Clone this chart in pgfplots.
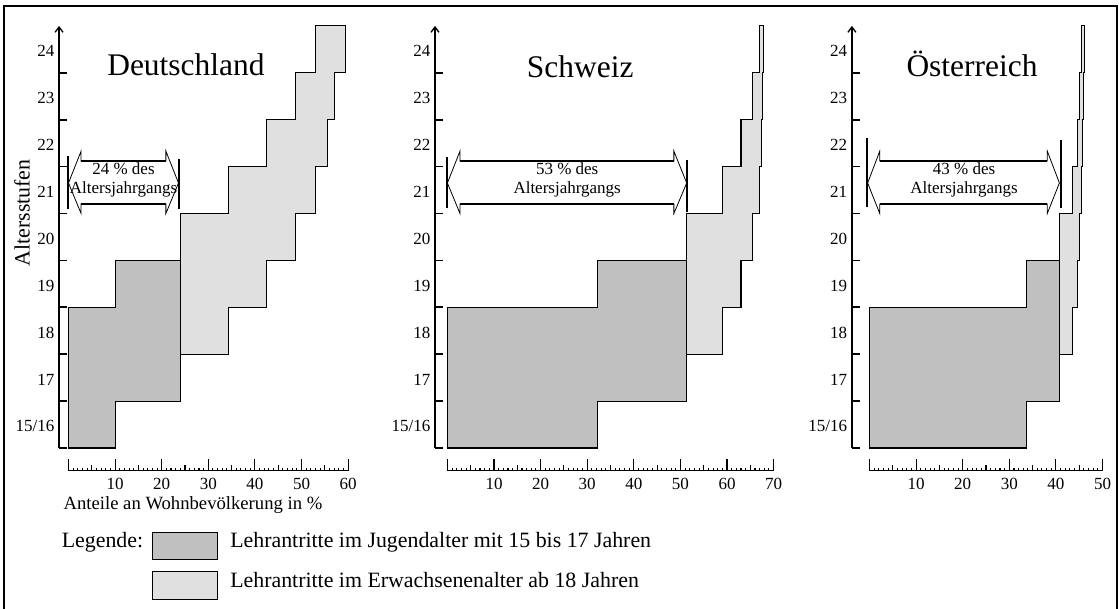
\documentclass[border=0pt]{standalone}
\usepackage{fontspec}
\setmainfont{Liberation Serif}
\usepackage{pgfplots}
\pgfplotsset{compat=1.18}
\usetikzlibrary{arrows.meta}
\definecolor{darkg}{RGB}{192,192,192}
\definecolor{lightg}{RGB}{224,224,224}
\newcommand\ticksz{\fontsize{12.75pt}{15pt}\selectfont}
\newcommand\titlesz{\fontsize{23.6pt}{28pt}\selectfont}
\newcommand\legsz{\fontsize{16.4pt}{19pt}\selectfont}
\newcommand\xlabsz{\fontsize{14pt}{17pt}\selectfont}
\pgfplotsset{
  panel/.style={
    x=3.495pt, y=35.175pt,
    xmin=0, ymin=-0.5, ymax=8.5,
    enlargelimits=false,
    anchor=south west,
    clip=false,
    axis x line=bottom, axis y line=left,
    axis x line shift=17pt,
    x axis line style={-, line width=0.8pt},
    y axis line style={-{Straight Barb[length=4pt,width=6pt]}, line width=1pt},
    tick align=inside,
    major tick length=9pt,
    minor tick length=2.2pt,
    minor x tick num=9,
    xtick style={line width=0.8pt, black},
    ytick style={line width=1.3pt, black},
    ytick=\empty,
    extra y ticks={-0.5,0.5,...,7.5},
    extra y tick labels={15/16,17,18,19,20,21,22,23,24},
    extra y tick style={major tick length=6pt},
    yticklabel style={yshift=16.2pt, font=\ticksz},
    xticklabel style={yshift=-2pt, font=\ticksz},
    extra x tick style={major tick length=4.5pt},
    /pgf/number format/assume math mode=true,
  },
  dark/.style={draw=black, fill=darkg, line width=0.8pt, mark=none},
  light/.style={draw=black, fill=lightg, line width=0.8pt, mark=none},
}
\begin{document}
\begin{tikzpicture}
\useasboundingbox (0,0) rectangle (839.25pt,456.75pt);
\draw[line width=1.5pt] (3pt,-1pt) -- (3pt,452pt) -- (837.75pt,452pt) -- (837.75pt,-1pt);

% ---------------- Deutschland
\begin{axis}[panel, at={(51.375pt,120.75pt)}, xmax=60,
  axis y line shift=7.1pt,
  xtick={0,10,...,60}, xticklabels={{},10,20,30,40,50,60},
  extra x ticks={5,15,...,55}, extra x tick labels={}]
\addplot[light] coordinates {(24,1.5) (34.4,1.5) (34.4,2.5) (42.4,2.5) (42.4,3.5) (48.7,3.5) (48.7,4.5) (53.0,4.5) (53.0,5.5) (55.5,5.5) (55.5,6.5) (57.0,6.5) (57.0,7.5) (59.5,7.5) (59.5,8.5) (53.0,8.5) (53.0,7.5) (48.7,7.5) (48.7,6.5) (42.4,6.5) (42.4,5.5) (34.4,5.5) (34.4,4.5) (24,4.5)} -- cycle;
\addplot[dark] coordinates {(0,-0.5) (10,-0.5) (10,0.5) (24,0.5) (24,3.5) (10,3.5) (10,2.5) (0,2.5)} -- cycle;
\draw[fill=white, line width=0.6pt] (axis cs:0,5.15) -- (axis cs:2.7,5.83) -- (axis cs:2.7,5.62) -- (axis cs:20.9,5.62) -- (axis cs:20.9,5.83) -- (axis cs:23.6,5.15) -- (axis cs:20.9,4.50) -- (axis cs:20.9,4.70) -- (axis cs:2.7,4.70) -- (axis cs:2.7,4.50) -- cycle;
\draw[line width=1.2pt] (axis cs:2.7,5.62) -- (axis cs:20.9,5.62) (axis cs:2.7,4.70) -- (axis cs:20.9,4.70);
\draw[line width=1.5pt] (axis cs:-0.2,4.60) -- (axis cs:-0.2,5.73) (axis cs:23.7,4.60) -- (axis cs:23.7,5.66);
\node[font=\ticksz, anchor=base] at (axis cs:11.8,5.34) {24 \% des};
\node[font=\ticksz, anchor=base] at (axis cs:11.8,4.92) {Altersjahrgangs};
\node[font=\titlesz, anchor=base] at (axis cs:25.2,7.45) {Deutschland};
\end{axis}

% ---------------- Schweiz
\begin{axis}[panel, at={(335.55pt,120.75pt)}, xmax=70,
  axis y line shift=9.3pt,
  xtick={0,10,...,70}, xticklabels={{},10,20,30,40,50,60,70},
  extra x ticks={5,15,...,65}, extra x tick labels={}]
\addplot[light] coordinates {(51.35,1.5) (59.1,1.5) (59.1,2.5) (63.0,2.5) (63.0,3.5) (65.4,3.5) (65.4,4.5) (66.9,4.5) (66.9,5.5) (67.5,5.5) (67.5,6.5) (67.7,6.5) (67.7,7.5) (67.8,7.5) (67.8,8.5) (66.9,8.5) (66.9,7.5) (65.4,7.5) (65.4,6.5) (63.0,6.5) (63.0,5.5) (59.1,5.5) (59.1,4.5) (51.35,4.5)} -- cycle;
\addplot[dark] coordinates {(0,-0.5) (32.3,-0.5) (32.3,0.5) (51.35,0.5) (51.35,3.5) (32.3,3.5) (32.3,2.5) (0,2.5)} -- cycle;
\draw[fill=white, line width=0.6pt] (axis cs:0,5.15) -- (axis cs:2.7,5.83) -- (axis cs:2.7,5.62) -- (axis cs:48.6,5.62) -- (axis cs:48.6,5.83) -- (axis cs:51.35,5.15) -- (axis cs:48.6,4.50) -- (axis cs:48.6,4.70) -- (axis cs:2.7,4.70) -- (axis cs:2.7,4.50) -- cycle;
\draw[line width=1.2pt] (axis cs:2.7,5.62) -- (axis cs:48.6,5.62) (axis cs:2.7,4.70) -- (axis cs:48.6,4.70);
\draw[line width=1.5pt] (axis cs:-0.15,4.62) -- (axis cs:-0.15,5.70) (axis cs:51.4,4.54) -- (axis cs:51.4,5.64);
\node[font=\ticksz, anchor=base] at (axis cs:25.7,5.34) {53 \% des};
\node[font=\ticksz, anchor=base] at (axis cs:25.7,4.92) {Altersjahrgangs};
\node[font=\titlesz, anchor=base] at (axis cs:28.5,7.40) {Schweiz};
\end{axis}

% ---------------- Oesterreich
\begin{axis}[panel, at={(652.125pt,120.75pt)}, xmax=50,
  axis y line shift=13.2pt,
  xtick={0,10,...,50}, xticklabels={{},10,20,30,40,50},
  extra x ticks={5,15,...,45}, extra x tick labels={}]
\addplot[light] coordinates {(40.8,1.5) (43.6,1.5) (43.6,2.5) (44.7,2.5) (44.7,3.5) (45.1,3.5) (45.1,4.5) (45.4,4.5) (45.4,5.5) (45.7,5.5) (45.7,6.5) (45.9,6.5) (45.9,7.5) (46.1,7.5) (46.1,8.5) (45.4,8.5) (45.4,7.5) (45.1,7.5) (45.1,6.5) (44.7,6.5) (44.7,5.5) (43.6,5.5) (43.6,4.5) (40.8,4.5)} -- cycle;
\addplot[dark] coordinates {(0,-0.5) (33.7,-0.5) (33.7,0.5) (40.8,0.5) (40.8,3.5) (33.7,3.5) (33.7,2.5) (0,2.5)} -- cycle;
\draw[fill=white, line width=0.6pt] (axis cs:-0.4,5.15) -- (axis cs:2.2,5.83) -- (axis cs:2.2,5.62) -- (axis cs:38.15,5.62) -- (axis cs:38.15,5.83) -- (axis cs:40.75,5.15) -- (axis cs:38.15,4.50) -- (axis cs:38.15,4.70) -- (axis cs:2.2,4.70) -- (axis cs:2.2,4.50) -- cycle;
\draw[line width=1.2pt] (axis cs:2.2,5.62) -- (axis cs:38.15,5.62) (axis cs:2.2,4.70) -- (axis cs:38.15,4.70);
\draw[line width=1.5pt] (axis cs:-0.6,4.63) -- (axis cs:-0.6,6.10) (axis cs:41.0,4.61) -- (axis cs:41.0,6.07);
\node[font=\ticksz, anchor=base] at (axis cs:20.3,5.34) {43 \% des};
\node[font=\ticksz, anchor=base] at (axis cs:20.3,4.92) {Altersjahrgangs};
\node[font=\titlesz, anchor=base] at (axis cs:22.0,7.43) {Österreich};
\end{axis}

% ---------------- labels and legend
\node[font=\legsz, rotate=90] at (16.5pt,297pt) {Altersstufen};
\node[font=\xlabsz, anchor=base west, inner sep=0pt] at (47.5pt,74.25pt) {Anteile an Wohnbevölkerung in \%};
\node[font=\legsz, anchor=base east, inner sep=0pt] at (107.6pt,45.75pt) {Legende:};
\draw[fill=darkg, line width=0.6pt] (114.5pt,57.5pt) rectangle (163.3pt,37.3pt);
\draw[fill=lightg, line width=0.6pt] (114.5pt,27.975pt) rectangle (163.3pt,7.5pt);
\node[font=\legsz, anchor=base west, inner sep=0pt] at (172.5pt,45.75pt) {Lehrantritte im Jugendalter mit 15 bis 17 Jahren};
\node[font=\legsz, anchor=base west, inner sep=0pt] at (172.5pt,15.75pt) {Lehrantritte im Erwachsenenalter ab 18 Jahren};
\end{tikzpicture}
\end{document}
